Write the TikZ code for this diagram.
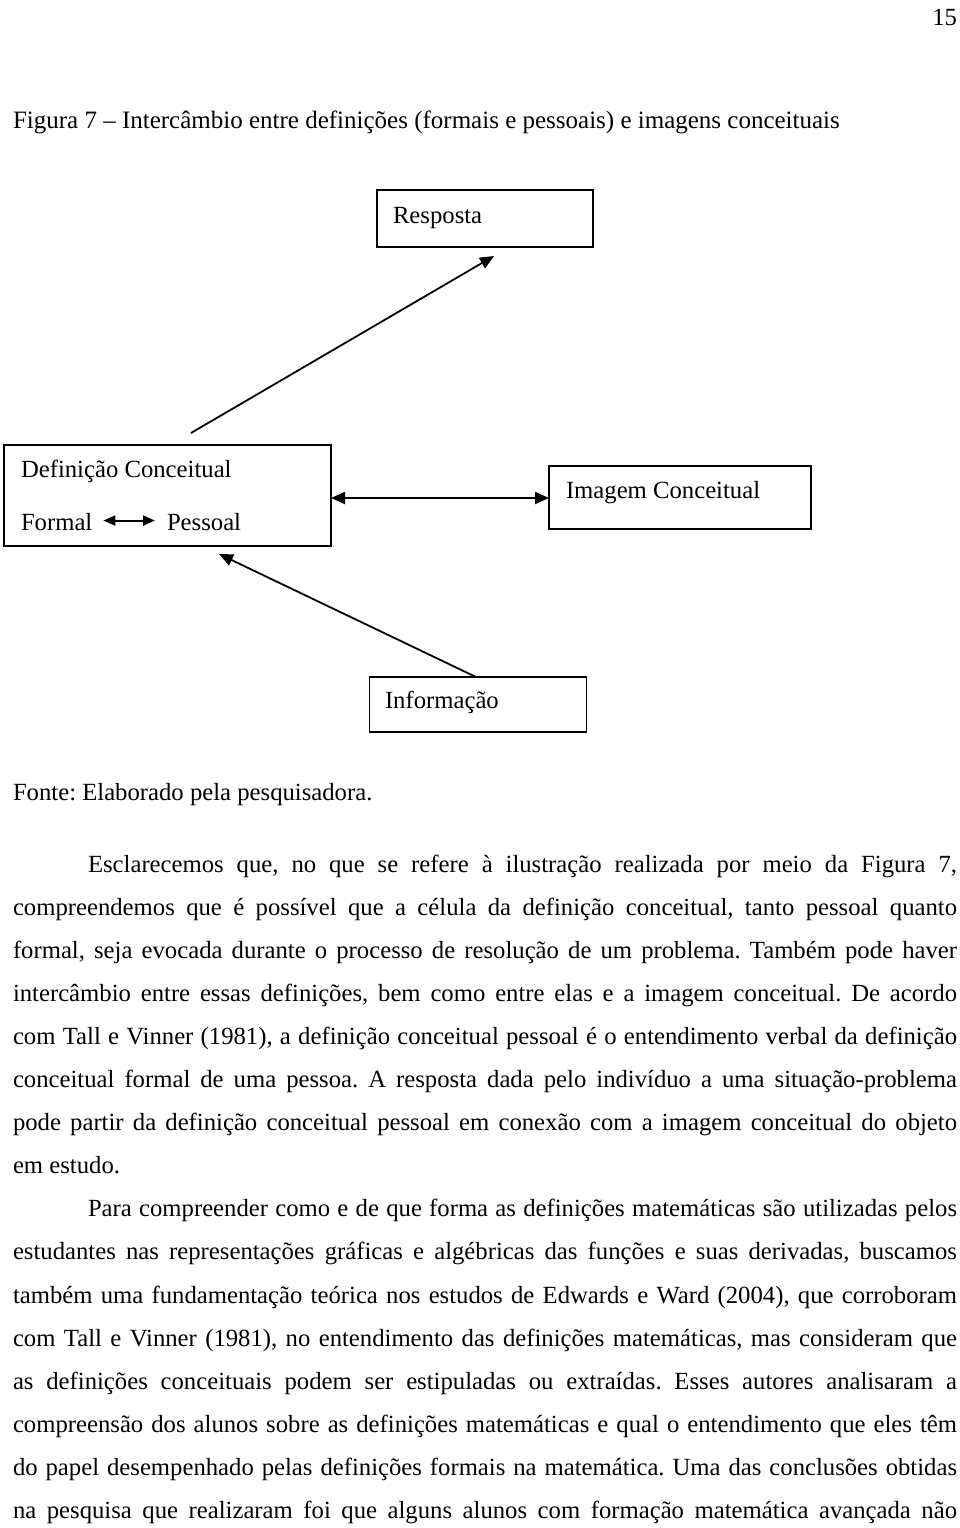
\documentclass[tikz,border=0pt]{standalone}
\usepackage{fontspec}
\setmainfont{Liberation Serif}
\usetikzlibrary{arrows.meta,calc}
\frenchspacing
\newcommand\jl[1]{\hbox to 944pt{#1}}
\newcommand\il[1]{\hbox to 869pt{#1}}
\begin{document}
\begin{tikzpicture}[x=1pt,y=-1pt,
  every node/.style={font=\fontsize{24.7}{30}\selectfont\frenchspacing, inner sep=0pt, outer sep=0pt},
  box/.style={draw, line width=1.8pt},
  txt/.style={anchor=base west},
  conn/.style={line width=1.8pt, -{Triangle[length=14pt,width=12pt]}},
  dconn/.style={line width=1.8pt, {Triangle[length=14pt,width=12pt]}-{Triangle[length=14pt,width=12pt]}},
  sconn/.style={line width=2pt, {Triangle[length=12pt,width=10pt]}-{Triangle[length=12pt,width=10pt]}}]
\useasboundingbox (0,0) rectangle (960,1528);
\fill[white] (0,0) rectangle (960,1528);

% page number and caption
\node[anchor=base east] (pg) at (957,26) {15};
\node[txt] (cap) at (13,128) {\fontsize{25}{30}\selectfont Figura 7 – Intercâmbio entre definições (formais e pessoais) e imagens conceituais};

% boxes
\node[box, minimum width=216pt, minimum height=57pt] (resp) at (485,218.5) {};
\node[txt] (resptxt) at (393,223) {Resposta};

\node[box, minimum width=327pt, minimum height=101pt] (def) at (167.5,495.5) {};
\node[txt] (deftxt) at (21,477) {Definição Conceitual};
\node[txt] (formal) at (21,530) {Formal};
\node[txt] (pess) at (167,530) {Pessoal};

\node[box, minimum width=262pt, minimum height=63pt] (img) at (680,497.5) {};
\node[txt] (imgtxt) at (566,498) {Imagem Conceitual};

\node[box, minimum width=217pt, minimum height=55pt] (info) at (478,704.5) {};
\node[txt] (infotxt) at (385,708) {Informação};

% connectors
\coordinate (a1s) at (191,433);
\coordinate (a1e) at (494,256);
\draw[conn] (a1s) -- (a1e);
\coordinate (a2e) at (219,554);
\draw[conn] ($(info.north)+(-2,0)$) -- (a2e);
\draw[dconn] (def.east |- 0,498) -- (img.west |- 0,498);
\draw[sconn] ($(formal.east)+(11,-1)$) -- ($(pess.west)+(-12,-1)$);

% source
\node[txt] (src) at (13,800) {Fonte: Elaborado pela pesquisadora.};

% body text
\node[txt] (l1) at (88,872) {\il{Esclarecemos que, no que se refere à ilustração realizada por meio da Figura 7,}};
\node[txt] (l2) at (13,915.1) {\jl{compreendemos que é possível que a célula da definição conceitual, tanto pessoal quanto}};
\node[txt] (l3) at (13,958.2) {\jl{formal, seja evocada durante o processo de resolução de um problema. Também pode haver}};
\node[txt] (l4) at (13,1001.3) {\jl{intercâmbio entre essas definições, bem como entre elas e a imagem conceitual. De acordo}};
\node[txt] (l5) at (13,1044.4) {\jl{com Tall e Vinner (1981), a definição conceitual pessoal é o entendimento verbal da definição}};
\node[txt] (l6) at (13,1087.5) {\jl{conceitual formal de uma pessoa. A resposta dada pelo indivíduo a uma situação-problema}};
\node[txt] (l7) at (13,1130.6) {\jl{pode partir da definição conceitual pessoal em conexão com a imagem conceitual do objeto}};
\node[txt] (l8) at (13,1173.7) {em estudo.};
\node[txt] (l9) at (88,1216.8) {\il{Para compreender como e de que forma as definições matemáticas são utilizadas pelos}};
\node[txt] (l10) at (13,1259.9) {\jl{estudantes nas representações gráficas e algébricas das funções e suas derivadas, buscamos}};
\node[txt] (l11) at (13,1303) {\jl{também uma fundamentação teórica nos estudos de Edwards e Ward (2004), que corroboram}};
\node[txt] (l12) at (13,1346.1) {\jl{com Tall e Vinner (1981), no entendimento das definições matemáticas, mas consideram que}};
\node[txt] (l13) at (13,1389.2) {\jl{as definições conceituais podem ser estipuladas ou extraídas. Esses autores analisaram a}};
\node[txt] (l14) at (13,1432.3) {\jl{compreensão dos alunos sobre as definições matemáticas e qual o entendimento que eles têm}};
\node[txt] (l15) at (13,1475.4) {\jl{do papel desempenhado pelas definições formais na matemática. Uma das conclusões obtidas}};
\node[txt] (l16) at (13,1518.5) {\jl{na pesquisa que realizaram foi que alguns alunos com formação matemática avançada não}};
\end{tikzpicture}
\end{document}
